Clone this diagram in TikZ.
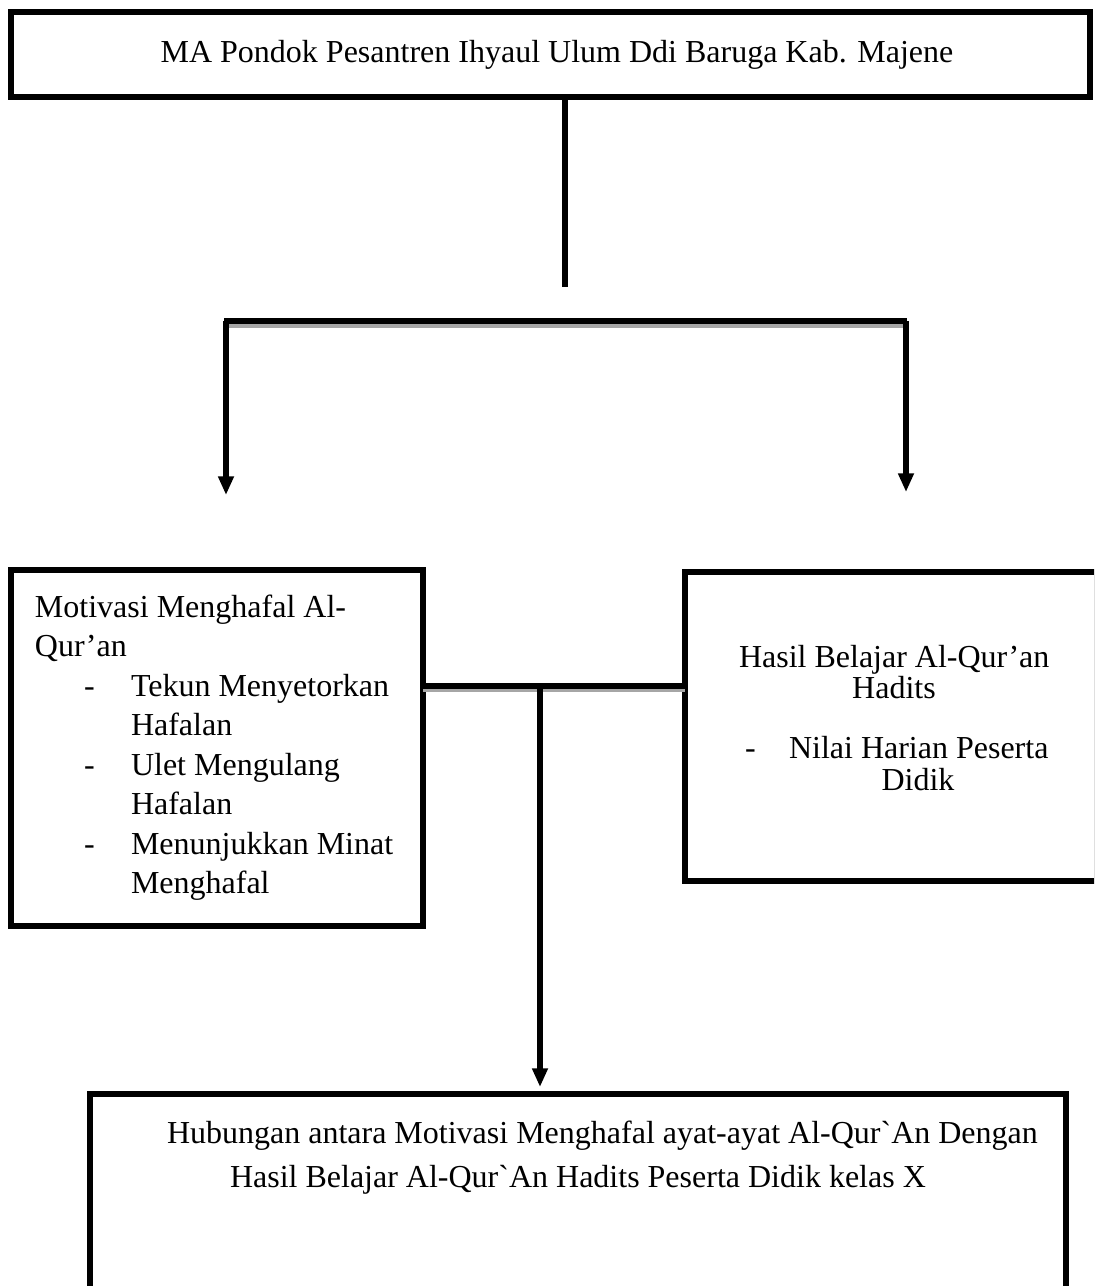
\documentclass[tikz,border=0pt]{standalone}
\usepackage{fontspec}
\newfontfamily\diagfont{Liberation Serif}
\usetikzlibrary{arrows.meta}
\begin{document}
\begin{tikzpicture}[x=0.375pt,y=-0.375pt,
  box/.style={draw=black, line width=2.25pt, rectangle, inner sep=0pt, outer sep=0pt, anchor=north west},
  txt/.style={font=\diagfont\fontsize{12pt}{14pt}\selectfont, inner sep=0pt, outer sep=0pt},
  conn/.style={line width=1.9pt},
  bar/.style={line width=2.25pt},
  shade/.style={draw=gray!70, line width=1.5pt},
  arr/.style={conn, -{Triangle[width=5.6pt,length=7pt]}}]
\useasboundingbox (0,0) rectangle (1094,1286);
\clip (0,0) rectangle (1094,1286);

% boxes
\node[box, minimum width=1079*0.375pt, minimum height=85*0.375pt] (top) at (11,12) {};
\node[box, minimum width=412*0.375pt, minimum height=356*0.375pt] (left) at (11,570) {};
\node[box, minimum width=412*0.375pt, minimum height=309*0.375pt] (right) at (685,572) {};
\node[box, minimum width=976*0.375pt, minimum height=201*0.375pt] (bottom) at (90,1094) {};

% texts
\node[txt, anchor=base] (ttop) at (557,62) {MA Pondok Pesantren Ihyaul Ulum Ddi Baruga Kab. Majene};

\node[txt, anchor=base west] (l1) at (35,617) {Motivasi Menghafal Al-};
\node[txt, anchor=base west] (l2) at (35,656) {Qur’an};
\node[txt, anchor=base west] (d1) at (84,696) {-};
\node[txt, anchor=base west] (l3) at (131,696) {Tekun Menyetorkan};
\node[txt, anchor=base west] (l4) at (131,735) {Hafalan};
\node[txt, anchor=base west] (d2) at (84,775) {-};
\node[txt, anchor=base west] (l5) at (131,775) {Ulet Mengulang};
\node[txt, anchor=base west] (l6) at (131,814) {Hafalan};
\node[txt, anchor=base west] (d3) at (84,854) {-};
\node[txt, anchor=base west] (l7) at (131,854) {Menunjukkan Minat};
\node[txt, anchor=base west] (l8) at (131,893) {Menghafal};

\node[txt, anchor=base west] (r1) at (739,667) {Hasil Belajar Al-Qur’an};
\node[txt, anchor=base] (r2) at (894,698) {Hadits};
\node[txt, anchor=base west] (rd) at (745,758) {-};
\node[txt, anchor=base west] (r3) at (789,758) {Nilai Harian Peserta};
\node[txt, anchor=base] (r4) at (918,790) {Didik};

\node[txt, anchor=base west] (b1) at (167,1143) {Hubungan antara Motivasi Menghafal ayat-ayat Al-Qur\symbol{96}An Dengan};
\node[txt, anchor=base west] (b2) at (230,1187) {Hasil Belajar Al-Qur\symbol{96}An Hadits Peserta Didik kelas X};

% connectors
\coordinate (jtop) at (565,287);
\coordinate (barL) at (226,321);
\coordinate (barR) at (906,321);
\coordinate (tipL) at (226,495);
\coordinate (tipR) at (906,492);
\coordinate (midJ) at (540,686);
\coordinate (tipB) at (540,1087);

\draw[conn] (top.south -| jtop) -- (jtop);
\draw[shade] ([xshift=-2*0.375pt, yshift=-5*0.375pt]barL) -- ([xshift=1*0.375pt, yshift=-5*0.375pt]barR);
\draw[bar] ([xshift=-2*0.375pt]barL) -- ([xshift=1*0.375pt]barR);
\draw[arr] (barL) -- (tipL);
\draw[arr] (barR) -- (tipR);

\draw[shade] ([yshift=-4*0.375pt]left.east |- midJ) -- ([yshift=-4*0.375pt]right.west |- midJ);
\draw[bar] (left.east |- midJ) -- (right.west |- midJ);
\draw[arr] (midJ) -- (tipB);
\end{tikzpicture}
\end{document}
